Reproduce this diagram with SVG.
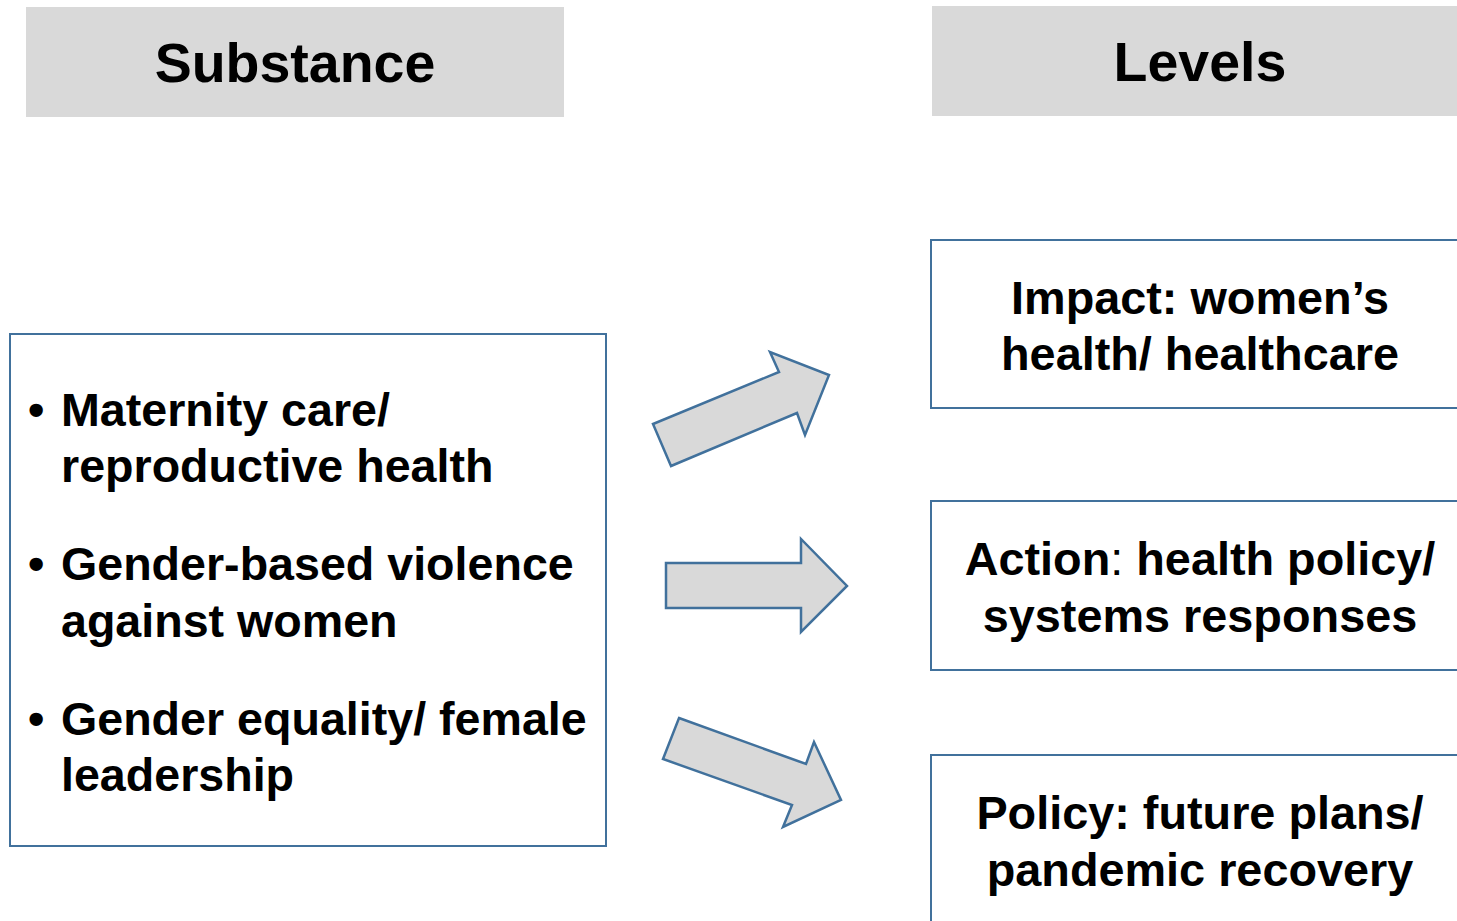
<svg xmlns="http://www.w3.org/2000/svg" width="1457" height="921" viewBox="0 0 1457 921">
<style>
.hdr{fill:#d9d9d9;stroke:none}
.box{fill:#ffffff;stroke:#41719c;stroke-width:2}
.arr{fill:#d9d9d9;stroke:#41719c;stroke-width:2.5;stroke-linejoin:miter}
text{font-family:"Liberation Sans",Arial,Helvetica,sans-serif;font-weight:bold;fill:#000}
.h{font-size:55.5px;text-anchor:middle}
.t{font-size:46.6px}
.c{font-size:46.8px;text-anchor:middle}
.reg{font-weight:normal}
</style>
<rect width="1457" height="921" fill="#ffffff"/>
<g id="substance-header">
<rect class="hdr" x="26" y="7" width="538" height="110"/>
<text class="h" x="295" y="82">Substance</text>
</g>
<g id="levels-header">
<rect class="hdr" x="932" y="6" width="540" height="110"/>
<text class="h" x="1200" y="81">Levels</text>
</g>
<g id="substance-list">
<rect class="box" x="10" y="334" width="596" height="512"/>
<text class="t" x="28" y="426">•</text>
<text class="t" x="61" y="426">Maternity care/</text>
<text class="t" x="61" y="482">reproductive health</text>
<text class="t" x="28" y="580">•</text>
<text class="t" x="61" y="580">Gender-based violence</text>
<text class="t" x="61" y="637">against women</text>
<text class="t" x="28" y="735">•</text>
<text class="t" x="61" y="735">Gender equality/ female</text>
<text class="t" x="61" y="791">leadership</text>
</g>
<g id="impact">
<rect class="box" x="931" y="240" width="540" height="168"/>
<text class="c" x="1200" y="314">Impact: women’s</text>
<text class="c" x="1200" y="370">health/ healthcare</text>
</g>
<g id="action">
<rect class="box" x="931" y="501" width="540" height="169"/>
<text class="c" x="1200" y="575">Action<tspan class="reg">:</tspan> health policy/</text>
<text class="c" x="1200" y="632">systems responses</text>
</g>
<g id="policy">
<rect class="box" x="931" y="755" width="540" height="180"/>
<text class="c" x="1200" y="829">Policy: future plans/</text>
<text class="c" x="1200" y="886">pandemic recovery</text>
</g>
<g id="connectors">
<polygon class="arr" points="671,466 653,424 779,372 770,352 829,375 805,435 797,413"/>
<polygon class="arr" points="666,563 801,563 801,539 847,586 801,632 801,608 666,608"/>
<polygon class="arr" points="679,718 806,764 814,742 841,800 783,827 792,805 663,759"/>
</g>
</svg>
